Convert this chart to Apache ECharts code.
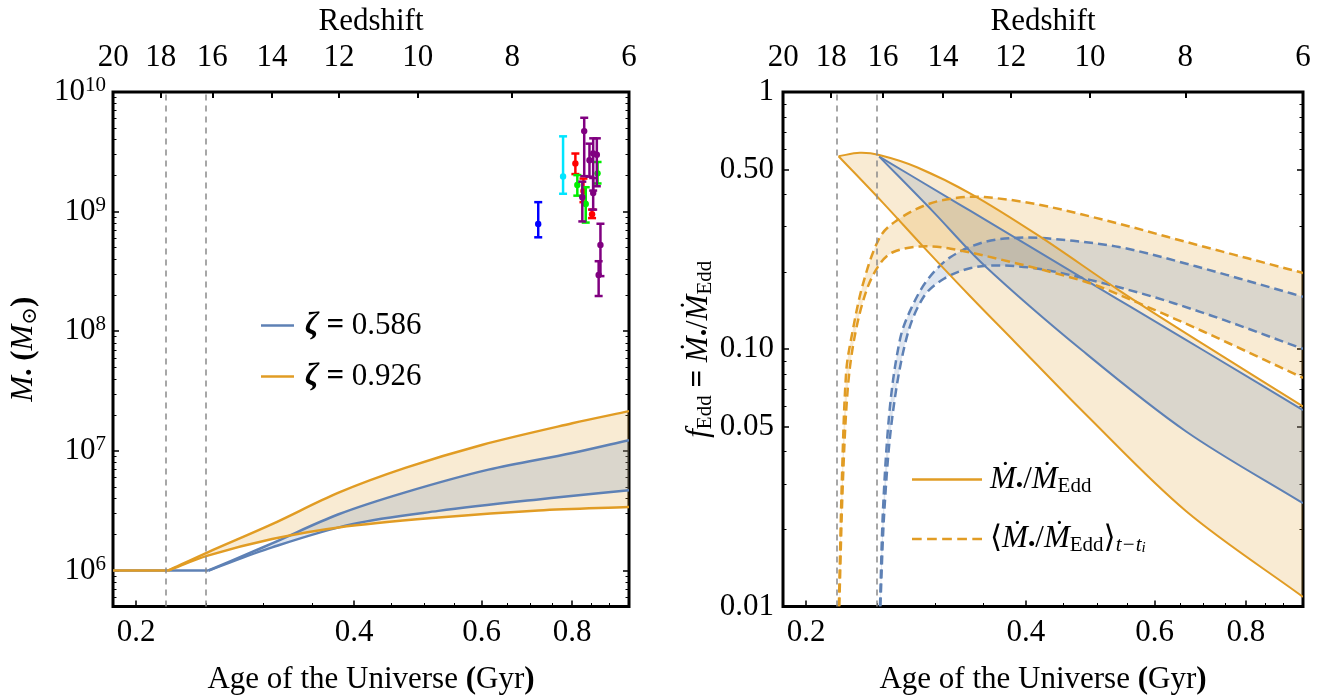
<!DOCTYPE html>
<html><head><meta charset="utf-8">
<script src="https://cdn.jsdelivr.net/npm/echarts@6/dist/echarts.min.js"></script>
<style>html,body{margin:0;padding:0;background:#fff}#c{width:1329px;height:700px}</style>
</head><body><div id="c"></div>
<script>
// ---------------- data ----------------
const ageTicks = [0.2, 0.4, 0.6, 0.8];
const ageTickLabels = ['0.2', '0.4', '0.6', '0.8'];
const ageMinorTicks = [0.25, 0.3, 0.35, 0.45, 0.5, 0.55, 0.65, 0.7, 0.75, 0.85, 0.9];
const redshiftLabels = ['20', '18', '16', '14', '12', '10', '8', '6'];
const redshiftAges = [0.186, 0.2164, 0.2549, 0.308, 0.3811, 0.4895, 0.661, 0.958];
const seedAges = [0.2215, 0.2518];

const massTicks = [1e6, 1e7, 1e8, 1e9, 1e10];
const massMinorTicks = [6e5, 7e5, 8e5, 9e5,
  2e6, 3e6, 4e6, 5e6, 6e6, 7e6, 8e6, 9e6,
  2e7, 3e7, 4e7, 5e7, 6e7, 7e7, 8e7, 9e7,
  2e8, 3e8, 4e8, 5e8, 6e8, 7e8, 8e8, 9e8,
  2e9, 3e9, 4e9, 5e9, 6e9, 7e9, 8e9, 9e9];
const fEddTicks = [0.01, 0.05, 0.1, 0.5, 1];
const fEddTickLabels = ['0.01', '0.05', '0.10', '0.50', '1'];
const fEddMinorTicks = [0.02, 0.03, 0.04, 0.06, 0.07, 0.08, 0.09, 0.2, 0.3, 0.4, 0.6, 0.7, 0.8, 0.9];

// left panel: black hole mass [age (Gyr), M (Msun)]
const massFlatBlue = [[0.186, 1e6], [0.2518, 1e6]];
const massFlatOrange = [[0.186, 1e6], [0.2215, 1e6]];
const massBlueUpper = [[0.2518, 1e6], [0.3082, 1.685e6], [0.3807, 2.95e6], [0.4705, 4.5e6], [0.613, 6.97e6], [0.8, 9.6e6], [0.958, 1.23e7]];
const massBlueLower = [[0.2518, 1e6], [0.3082, 1.56e6], [0.3973, 2.44e6], [0.523, 3.15e6], [0.7183, 3.93e6], [0.958, 4.68e6]];
const massOrangeUpper = [[0.2215, 1e6], [0.2512, 1.42e6], [0.3082, 2.44e6], [0.3807, 4.47e6], [0.4705, 7.2e6], [0.6, 1.12e7], [0.8, 1.7e7], [0.958, 2.15e7]];
const massOrangeLower = [[0.2215, 1e6], [0.2512, 1.33e6], [0.3082, 1.83e6], [0.3807, 2.29e6], [0.523, 2.77e6], [0.7183, 3.18e6], [0.958, 3.40e6]];

// observed quasars [age, M, Mlow, Mhigh]
const obsBlue = [[0.718, 7.87e8, 6.10e8, 1.20e9]];
const obsCyan = [[0.777, 1.97e9, 1.41e9, 4.26e9]];
const obsRed = [[0.808, 2.53e9, 2.06e9, 3.06e9], [0.829, 1.49e9, 1.2e9, 1.89e9], [0.852, 9.5e8, 8.83e8, 1.04e9]];
const obsGreen = [[0.813, 1.67e9, 1.36e9, 2.02e9], [0.835, 1.16e9, 8.1e8, 1.60e9], [0.867, 2.09e9, 1.72e9, 2.60e9]];
const obsPurple = [[0.831, 4.71e9, 1.98e9, 6.09e9], [0.826, 1.32e9, 8.28e8, 1.78e9], [0.845, 2.69e9, 1.96e9, 3.70e9],
  [0.855, 3.06e9, 1.50e9, 4.10e9], [0.865, 2.99e9, 1.63e9, 4.10e9], [0.855, 1.43e9, 1.04e9, 1.91e9],
  [0.875, 5.27e8, 2.89e8, 7.92e8], [0.870, 2.95e8, 1.97e8, 3.85e8]];

// right panel: Eddington ratio [age, f]
const fOrangeUpper = [[0.2215, 0.563], [0.2368, 0.580], [0.2518, 0.569], [0.2836, 0.510], [0.3362, 0.402], [0.4157, 0.277], [0.5364, 0.1694], [0.6635, 0.115], [0.958, 0.060]];
const fOrangeLower = [[0.2215, 0.563], [0.2550, 0.370], [0.2897, 0.2496], [0.3362, 0.1597], [0.3859, 0.107], [0.4824, 0.056], [0.6635, 0.0234], [0.958, 0.0109]];
const fBlueUpper = [[0.2518, 0.561], [0.3362, 0.344], [0.4824, 0.186], [0.6997, 0.0991], [0.958, 0.058]];
const fBlueLower = [[0.2518, 0.561], [0.2975, 0.346], [0.3508, 0.2118], [0.4773, 0.0991], [0.6635, 0.0478], [0.958, 0.0252]];
const avgOrangeUpper = [[0.2217, 0.01], [0.2240, 0.0334], [0.2269, 0.0817], [0.2305, 0.110], [0.2393, 0.180], [0.2524, 0.273], [0.2661, 0.3167], [0.2928, 0.3653], [0.3221, 0.388], [0.3508, 0.3904], [0.4157, 0.3653], [0.5364, 0.3075], [0.6635, 0.2611], [0.958, 0.198]];
const avgOrangeLower = [[0.2220, 0.01], [0.2245, 0.03], [0.2280, 0.07], [0.2330, 0.1117], [0.2419, 0.1694], [0.2524, 0.215], [0.2633, 0.2388], [0.2867, 0.251], [0.3154, 0.2459], [0.3901, 0.215], [0.4824, 0.183], [0.5364, 0.163], [0.6959, 0.118], [0.958, 0.0774]];
const avgBlueUpper = [[0.2524, 0.01], [0.2550, 0.0248], [0.2606, 0.0606], [0.2690, 0.110], [0.2777, 0.1416], [0.2928, 0.1852], [0.3154, 0.2283], [0.3508, 0.2611], [0.3901, 0.2714], [0.4339, 0.2689], [0.5364, 0.2496], [0.6635, 0.215], [0.958, 0.160]];
const avgBlueLower = [[0.2527, 0.01], [0.2560, 0.024], [0.2625, 0.055], [0.2747, 0.1117], [0.2897, 0.160], [0.3088, 0.188], [0.3362, 0.207], [0.3660, 0.2118], [0.4157, 0.2056], [0.4824, 0.188], [0.5966, 0.160], [0.7377, 0.1315], [0.958, 0.1003]];

// ---------------- styling / helpers ----------------
const FONT = "'Liberation Serif','DejaVu Serif','Times New Roman',serif";
const FS = 31;
const BLUE = '#5E81B5', ORANGE = '#E19C24';
const ORANGE_FILL = 'rgba(225,156,36,0.2)', BLUE_FILL = 'rgba(94,129,181,0.2)';
const AGE_RANGE = [0.1859, 0.9581];
const MASS_RANGE = [5e5, 1.0001e10];
const FEDD_RANGE = [0.009999, 1.0001];
const TICK = {color: '#000', width: 1.5};
const DASH = [9, 5];

function nearestIndex(arr, v) {
  let best = 0, bd = Infinity;
  arr.forEach((a, i) => { const d = Math.abs(Math.log(a) - Math.log(v)); if (d < bd) { bd = d; best = i; } });
  return best;
}
const baseText = {fontFamily: FONT, fontSize: FS, color: '#000', lineHeight: 34};
const rich = {
  r: {...baseText},
  mi: {...baseText, fontStyle: 'italic'},
  bi: {...baseText, fontStyle: 'italic', fontWeight: 'bold'},
  b: {...baseText, fontWeight: 'bold'},
  sub: {fontFamily: FONT, fontSize: 21, color: '#000', lineHeight: 21, verticalAlign: 'bottom'},
  subi: {fontFamily: FONT, fontSize: 21, fontStyle: 'italic', color: '#000', lineHeight: 21, verticalAlign: 'bottom'},
  subsub: {fontFamily: FONT, fontSize: 15, fontStyle: 'italic', color: '#000', lineHeight: 12, verticalAlign: 'bottom'},
  sup: {fontFamily: FONT, fontSize: 21, color: '#000', lineHeight: 20, verticalAlign: 'top'},
  padL: {width: 6},
  padR: {width: 3}
};

function xAxesFor(g) {
  const common = {gridIndex: g, type: 'log', min: AGE_RANGE[0], max: AGE_RANGE[1], axisLine: {show: false}, splitLine: {show: false}, minorTick: {show: false}};
  return [
    {...common, position: 'bottom',
      axisTick: {show: true, inside: true, length: 6, customValues: ageTicks, lineStyle: TICK},
      axisLabel: {show: true, customValues: ageTicks, margin: 11, fontFamily: FONT, fontSize: FS, color: '#000',
        formatter: v => ageTickLabels[nearestIndex(ageTicks, v)]},
      name: '{r|Age of the Universe }{b|(}{r|Gyr}{b|)}', nameLocation: 'middle', nameGap: 56,
      nameTextStyle: {rich: rich}},
    {...common, position: 'bottom',
      axisTick: {show: true, inside: true, length: 3.5, customValues: ageMinorTicks, lineStyle: {color: '#000', width: 1}},
      axisLabel: {show: false}},
    {...common, position: 'top',
      axisTick: {show: true, inside: true, length: 6, customValues: redshiftAges, lineStyle: {color: '#000', width: 2}},
      axisLabel: {show: true, customValues: redshiftAges, margin: 19, fontFamily: FONT, fontSize: FS, color: '#000',
        formatter: v => redshiftLabels[nearestIndex(redshiftAges, v)]},
      name: 'Redshift', nameLocation: 'middle', nameGap: 53,
      nameTextStyle: {fontFamily: FONT, fontSize: FS, color: '#000', lineHeight: 31}}
  ];
}
function yAxesFor(g, range, ticks, minor, fmt, labelMargin, name, nameGap) {
  const common = {gridIndex: g, type: 'log', min: range[0], max: range[1], axisLine: {show: false}, splitLine: {show: false}, minorTick: {show: false}};
  return [
    {...common, position: 'left',
      axisTick: {show: true, inside: true, length: 6, customValues: ticks, lineStyle: TICK},
      axisLabel: {show: true, customValues: ticks, margin: labelMargin, formatter: fmt, fontFamily: FONT, fontSize: FS, color: '#000', rich: rich},
      name: name, nameLocation: 'middle', nameRotate: 90, nameGap: nameGap, nameTextStyle: {rich: rich}},
    {...common, position: 'left',
      axisTick: {show: true, inside: true, length: 3.5, customValues: minor, lineStyle: {color: '#000', width: 1}},
      axisLabel: {show: false}},
    {...common, position: 'right',
      axisTick: {show: true, inside: true, length: 6, customValues: ticks, lineStyle: TICK},
      axisLabel: {show: false}},
    {...common, position: 'right',
      axisTick: {show: true, inside: true, length: 3.5, customValues: minor, lineStyle: {color: '#000', width: 1}},
      axisLabel: {show: false}}
  ];
}

// smooth cubic path through pixel points (tangent = chord direction of neighbours)
function smoothSegs(px) {
  const n = px.length;
  const tan = px.map((p, i) => {
    const a = px[Math.max(0, i - 1)], b = px[Math.min(n - 1, i + 1)];
    const dx = b[0] - a[0], dy = b[1] - a[1], L = Math.hypot(dx, dy) || 1;
    return [dx / L, dy / L];
  });
  let d = '';
  for (let i = 0; i < n - 1; i++) {
    const p = px[i], q = px[i + 1];
    const s = Math.hypot(q[0] - p[0], q[1] - p[1]) / 3;
    d += ' C' + (p[0] + tan[i][0] * s) + ',' + (p[1] + tan[i][1] * s) + ' ' +
      (q[0] - tan[i + 1][0] * s) + ',' + (q[1] - tan[i + 1][1] * s) + ' ' + q[0] + ',' + q[1];
  }
  return d;
}
function band(upper, lower, fill, xi, yi) {
  return {type: 'custom', name: 'band', xAxisIndex: xi, yAxisIndex: yi, silent: true, z: 1, clip: true, animation: false,
    data: [upper[0]],
    renderItem: (params, api) => {
      const up = upper.map(p => api.coord(p));
      const lo = lower.slice().reverse().map(p => api.coord(p));
      const d = 'M' + up[0][0] + ',' + up[0][1] + smoothSegs(up) + ' L' + lo[0][0] + ',' + lo[0][1] + smoothSegs(lo) + ' Z';
      return {type: 'path', shape: {pathData: d}, style: {fill: fill, stroke: null}};
    }};
}
function curve(name, data, color, xi, yi, width, dashed) {
  return {type: 'custom', name: name, xAxisIndex: xi, yAxisIndex: yi, silent: true, z: 3, clip: true, animation: false,
    itemStyle: {color: color},
    data: [data[0]],
    renderItem: (params, api) => {
      const px = data.map(p => api.coord(p));
      const d = 'M' + px[0][0] + ',' + px[0][1] + smoothSegs(px);
      return {type: 'path', shape: {pathData: d},
        style: {fill: null, stroke: color, lineWidth: width, lineDash: dashed ? DASH : null, lineCap: 'butt', lineJoin: 'round'}};
    }};
}
function seedLines(xi, yi) {
  return {type: 'line', name: 'seed', data: [], xAxisIndex: xi, yAxisIndex: yi, z: 2, animation: false,
    markLine: {silent: true, symbol: ['none', 'none'], label: {show: false}, animation: false,
      lineStyle: {color: '#8a8a8a', type: [6, 5], width: 1.5},
      data: seedAges.map(a => ({xAxis: a}))}};
}
function errorBars(points, color) {
  return {type: 'custom', name: 'obs', xAxisIndex: 0, yAxisIndex: 0, z: 5, animation: false,
    data: points, encode: {x: 0, y: [1, 2, 3]},
    renderItem: (params, api) => {
      const x = api.value(0);
      const c = api.coord([x, api.value(1)]), lo = api.coord([x, api.value(2)]), hi = api.coord([x, api.value(3)]);
      const w = 4, st = {stroke: color, lineWidth: 2.5};
      return {type: 'group', children: [
        {type: 'line', shape: {x1: c[0], y1: lo[1], x2: c[0], y2: hi[1]}, style: st},
        {type: 'line', shape: {x1: c[0] - w, y1: hi[1], x2: c[0] + w, y2: hi[1]}, style: st},
        {type: 'line', shape: {x1: c[0] - w, y1: lo[1], x2: c[0] + w, y2: lo[1]}, style: st},
        {type: 'circle', shape: {cx: c[0], cy: c[1], r: 3.2}, style: {fill: color}}
      ]};
    }};
}

const L1 = 'ζ = 0.586', L2 = 'ζ = 0.926';
const R1 = 'Ṁ•/Ṁ Edd', R2 = '⟨Ṁ•/Ṁ Edd⟩ t−ti';
const DASH_ICON = 'path://M0,0h9v2.3h-9z M14,0h9v2.3h-9z M28,0h9v2.3h-9z M42,0h9v2.3h-9z M56,0h9v2.3h-9z';

const option = {
  backgroundColor: '#fff',
  animation: false,
  grid: [
    {left: 113, top: 92, width: 516, height: 517, show: true, borderColor: '#000', borderWidth: 3, backgroundColor: 'transparent'},
    {left: 783, top: 92, width: 520, height: 517, show: true, borderColor: '#000', borderWidth: 3, backgroundColor: 'transparent'}
  ],
  xAxis: [...xAxesFor(0), ...xAxesFor(1)],
  yAxis: [
    ...yAxesFor(0, MASS_RANGE, massTicks, massMinorTicks,
      v => '{r|10}{sup|' + Math.round(Math.log10(v)) + '}', 7,
      '{mi|M}{sub|•}{r| }{b|(}{mi|M}{sub|⊙}{b|)}', 72),
    ...yAxesFor(1, FEDD_RANGE, fEddTicks, fEddMinorTicks,
      v => '{r|' + fEddTickLabels[nearestIndex(fEddTicks, v)] + '}', 9,
      '{mi|f}{sub|Edd}{b| = }{mi|Ṁ}{sub|•}{r|/}{mi|Ṁ}{sub|Edd}', 62)
  ],
  legend: [
    {data: [{name: L1, icon: 'rect'}, {name: L2, icon: 'rect'}], orient: 'vertical', left: 256, top: 305,
      itemWidth: 33, itemHeight: 2.5, itemGap: 20, selectedMode: false, symbolKeepAspect: false,
      formatter: n => '{padL| }{bi|ζ}{b| = }{r|' + (n === L1 ? '0.586' : '0.926') + '}',
      textStyle: {rich: rich}},
    {data: [{name: R1, icon: 'rect'}, {name: R2, icon: DASH_ICON}], orient: 'vertical', left: 907, top: 459,
      itemWidth: 70, itemHeight: 2.5, itemGap: 27, selectedMode: false, symbolKeepAspect: false,
      formatter: n => n === R1
        ? '{padR| }{mi|Ṁ}{sub|•}{r|/}{mi|Ṁ}{sub|Edd}'
        : '{padR| }{r|⟨}{mi|Ṁ}{sub|•}{r|/}{mi|Ṁ}{sub|Edd}{r|⟩}{subi|t−t}{subsub|i}',
      textStyle: {rich: rich}}
  ],
  series: [
    // left panel
    band(massOrangeUpper, massOrangeLower, ORANGE_FILL, 0, 0),
    band(massBlueUpper, massBlueLower, BLUE_FILL, 0, 0),
    seedLines(0, 0),
    curve(L1, massFlatBlue, BLUE, 0, 0, 2.5, false),
    curve(L1, massBlueUpper, BLUE, 0, 0, 2.5, false),
    curve(L1, massBlueLower, BLUE, 0, 0, 2.5, false),
    curve(L2, massFlatOrange, ORANGE, 0, 0, 2.5, false),
    curve(L2, massOrangeUpper, ORANGE, 0, 0, 2.5, false),
    curve(L2, massOrangeLower, ORANGE, 0, 0, 2.5, false),
    errorBars(obsBlue, '#0000ff'),
    errorBars(obsCyan, '#00e5ff'),
    errorBars(obsRed, '#ff0000'),
    errorBars(obsGreen, '#00ee00'),
    errorBars(obsPurple, '#800080'),
    // right panel
    band(fOrangeUpper, fOrangeLower, ORANGE_FILL, 3, 4),
    band(fBlueUpper, fBlueLower, BLUE_FILL, 3, 4),
    band(avgOrangeUpper, avgOrangeLower, ORANGE_FILL, 3, 4),
    band(avgBlueUpper, avgBlueLower, BLUE_FILL, 3, 4),
    seedLines(3, 4),
    curve('blue rate', fBlueUpper, BLUE, 3, 4, 2, false),
    curve('blue rate', fBlueLower, BLUE, 3, 4, 2, false),
    curve('blue avg', avgBlueUpper, BLUE, 3, 4, 2.5, true),
    curve('blue avg', avgBlueLower, BLUE, 3, 4, 2.5, true),
    curve(R1, fOrangeUpper, ORANGE, 3, 4, 2, false),
    curve(R1, fOrangeLower, ORANGE, 3, 4, 2, false),
    curve(R2, avgOrangeUpper, ORANGE, 3, 4, 2.5, true),
    curve(R2, avgOrangeLower, ORANGE, 3, 4, 2.5, true)
  ]
};
const chart = echarts.init(document.getElementById('c'));
chart.setOption(option);
</script></body></html>
